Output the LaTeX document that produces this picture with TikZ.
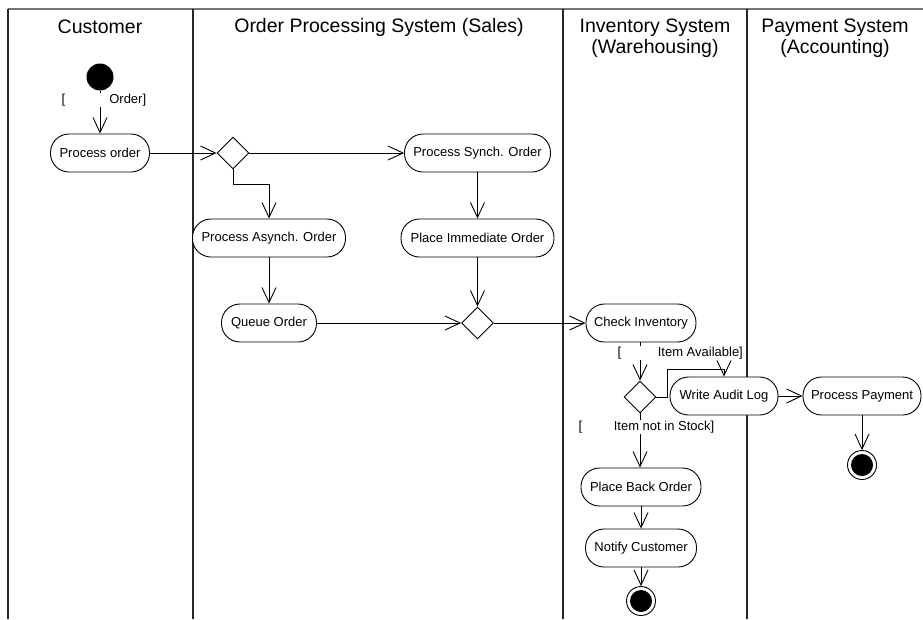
\documentclass[tikz,border=0pt]{standalone}
\usepackage{fontspec}
\setmainfont{Liberation Sans}
\usetikzlibrary{arrows.meta,shapes.geometric}
\begin{document}
\begin{tikzpicture}[x=1pt,y=-1pt,
  act/.style={draw, fill=white, rectangle, rounded corners=18.5pt, minimum height=38pt, inner sep=0pt, font=\fontsize{13}{15}\selectfont, line width=0.9pt},
  dec/.style={draw, fill=white, diamond, minimum width=32pt, minimum height=32pt, inner sep=0pt, line width=0.9pt},
  flow/.style={-{Straight Barb[length=15pt,width=14pt]}, line width=0.9pt},
  lane/.style={line width=1.6pt, draw=black!85},
  hdr/.style={font=\fontsize{19.5}{21}\selectfont, align=center, inner sep=0pt},
  guard/.style={font=\fontsize{13}{14}\selectfont, inner xsep=1.5pt, inner ysep=0.5pt, fill=white, anchor=west},
  startnode/.style={circle, fill=black, minimum size=27pt, inner sep=0pt},
  endnode/.style={circle, draw, fill=white, line width=0.9pt, minimum size=29pt, inner sep=0pt}
]
\useasboundingbox (0,0) rectangle (923,619);
% swimlanes
\draw[line width=2pt, draw=black!55] (8,9) coordinate (tl) -- (923,9) coordinate (tr);
\draw[lane] (8,9) -- (8,619);
\draw[lane] (193,9) -- (193,619);
\draw[lane] (563,9) -- (563,619);
\draw[lane] (747,9) -- (747,619);
% headers
\node[hdr] (h1) at (100,27) {Customer};
\node[hdr] (h2) at (379,27) {Order Processing System (Sales)};
\node[hdr] (h3) at (655,38.5) {Inventory System\\(Warehousing)};
\node[hdr] (h4) at (835,38.5) {Payment System\\(Accounting)};
% nodes
\node[startnode] (start) at (100,77) {};
\node[act, minimum width=99pt] (po) at (100,153) {Process order};
\node[dec] (d1) at (233,153) {};
\node[act, minimum width=146pt] (pso) at (477.5,153) {Process Synch. Order};
\node[act, minimum width=153pt] (pao) at (269,238) {Process Asynch. Order};
\node[act, minimum width=153pt] (pio) at (477.5,238) {Place Immediate Order};
\node[act, minimum width=95pt] (qo) at (269,323) {Queue Order};
\node[dec] (d2) at (477.5,323) {};
\node[act, minimum width=110pt] (ci) at (641,323) {Check Inventory};
\node[dec] (d3) at (640,397) {};
\node[act, minimum width=108pt] (wal) at (724,396) {Write Audit Log};
\node[act, minimum width=118pt] (pp) at (862,396) {Process Payment};
\node[act, minimum width=120pt] (pbo) at (641,487) {Place Back Order};
\node[act, minimum width=111pt] (nc) at (641,548) {Notify Customer};
\node[endnode] (end1) at (862,465) {};
\fill (end1.center) circle (11pt);
\node[endnode] (end2) at (641,601) {};
\fill (end2.center) circle (11pt);
% flows
\draw[flow] (start) -- (po);
\draw[flow] (po) -- (d1);
\draw[flow] (d1) -- (pso);
\draw[flow] (d1.south) -- ++(0,15) -| (pao.north);
\draw[flow] (pso) -- (pio);
\draw[flow] (pao) -- (qo);
\draw[flow] (qo) -- (d2);
\draw[flow] (pio) -- (d2);
\draw[flow] (d2) -- (ci);
\draw[flow] (ci.south -| d3.north) -- (d3.north);
\coordinate (bend) at (667,369);
\draw[flow] (d3.east) -| (bend) -| (wal.north);
\draw[flow] (wal) -- (pp);
\draw[flow] (pp) -- (end1);
\draw[flow] (d3.south) -- (d3.south |- pbo.north);
\draw[flow] (pbo) -- (nc);
\draw[flow] (nc) -- (end2);
% guards
\node[guard] (g1) at (60,100) {[\hspace{44pt}Order]};
\node[guard] (g2) at (616,353) {[\hspace{36.5pt}Item Available]};
\node[guard] (g3) at (577,427) {[\hspace{31.5pt}Item not in Stock]};
\end{tikzpicture}
\end{document}
